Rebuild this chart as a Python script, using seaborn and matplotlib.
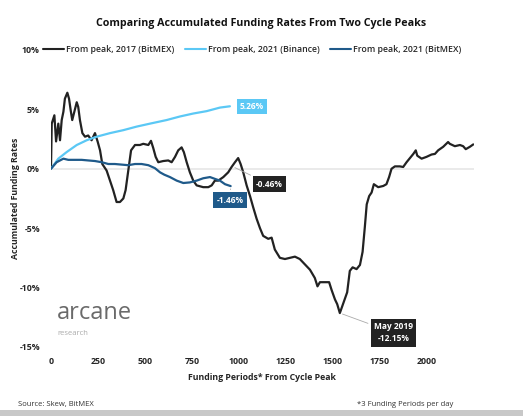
import numpy as np
import pandas as pd
import matplotlib.pyplot as plt
import seaborn as sns

# 2017 peak, BitMEX (funding period, accumulated %)
p2017_x = [0, 4, 18, 27, 39, 48, 57, 66, 74, 87, 96, 105, 113, 124, 137, 145, 154, 167, 181, 198,
           216, 234, 248, 261, 273, 296, 314, 331, 349, 367, 385, 397, 411, 426, 447, 473, 491, 518,
           532, 544, 557, 571, 597, 624, 642, 660, 677, 695, 707, 722, 739, 757, 775, 810, 837, 855,
           872, 890, 917, 943, 961, 979, 996, 1009, 1023, 1041, 1059, 1076, 1094, 1112, 1129, 1156,
           1174, 1191, 1218, 1245, 1271, 1298, 1324, 1351, 1378, 1404, 1418, 1431, 1457, 1480, 1493,
           1511, 1523, 1537, 1556, 1576, 1590, 1605, 1626, 1644, 1658, 1670, 1680, 1693, 1706, 1718,
           1741, 1768, 1785, 1799, 1812, 1830, 1856, 1874, 1892, 1910, 1928, 1941, 1949, 1972, 1998,
           2025, 2043, 2060, 2087, 2113, 2122, 2149, 2176, 2193, 2207, 2229, 2247]
p2017_y = [0.0, 3.8, 4.5, 2.3, 3.8, 2.4, 4.1, 4.8, 5.9, 6.4, 5.9, 4.9, 4.1, 4.8, 5.6, 5.2, 4.1, 3.0,
           2.7, 2.8, 2.4, 3.0, 2.3, 1.55, 0.4, -0.15, -1.0, -1.8, -2.8, -2.8, -2.5, -1.8, -0.15, 1.55,
           2.0, 2.0, 2.1, 2.0, 2.35, 1.75, 1.0, 0.55, 0.65, 0.7, 0.55, 1.0, 1.55, 1.8, 1.4, 0.55, -0.3,
           -1.0, -1.4, -1.55, -1.55, -1.4, -1.0, -1.0, -0.7, -0.3, 0.15, 0.55, 0.9, 0.4, -0.3, -1.4,
           -2.3, -3.25, -4.2, -5.0, -5.65, -5.9, -5.8, -6.8, -7.5, -7.6, -7.5, -7.4, -7.6, -8.05, -8.5,
           -9.2, -9.9, -9.55, -9.55, -9.55, -10.2, -11.0, -11.4, -12.15, -11.3, -10.4, -8.6, -8.3,
           -8.45, -8.1, -7.0, -4.9, -3.0, -2.3, -2.0, -1.3, -1.55, -1.45, -1.3, -0.7, 0.0, 0.2, 0.2,
           0.15, 0.55, 0.9, 1.25, 1.55, 1.1, 0.85, 1.0, 1.2, 1.25, 1.55, 1.85, 2.25, 2.1, 1.9, 2.0,
           1.9, 1.65, 1.85, 2.05]

# 2021 peak, Binance
bin_x = [0, 39, 83, 137, 190, 243, 314, 385, 456, 527, 615, 686, 757, 828, 899, 952]
bin_y = [0.0, 0.85, 1.4, 2.0, 2.4, 2.7, 3.0, 3.25, 3.55, 3.8, 4.1, 4.4, 4.65, 4.85, 5.15, 5.26]

# 2021 peak, BitMEX
bmx_x = [0, 30, 66, 92, 128, 163, 198, 234, 270, 305, 340, 376, 411, 447, 482, 518, 553, 580, 603,
         633, 669, 704, 739, 775, 810, 846, 872, 899, 926, 956]
bmx_y = [0.0, 0.55, 0.85, 0.75, 0.75, 0.75, 0.7, 0.65, 0.55, 0.4, 0.4, 0.35, 0.3, 0.4, 0.4, 0.3,
         0.05, -0.3, -0.5, -0.7, -1.0, -1.2, -1.15, -1.0, -0.8, -0.7, -0.85, -1.0, -1.3, -1.46]

labels = ["From peak, 2017 (BitMEX)", "From peak, 2021 (Binance)", "From peak, 2021 (BitMEX)"]
colors = ["#222222", "#5bc8f5", "#1f5a8a"]
yticks = [10, 5, 0, -5, -10, -15]
xticks = [0, 250, 500, 750, 1000, 1250, 1500, 1750, 2000]

df = pd.concat([
    pd.DataFrame({"period": p2017_x, "rate": p2017_y, "series": labels[0]}),
    pd.DataFrame({"period": bin_x, "rate": bin_y, "series": labels[1]}),
    pd.DataFrame({"period": bmx_x, "rate": bmx_y, "series": labels[2]}),
])

sns.set_style("white")
plt.rcParams['font.family'] = ['Open Sans', 'DejaVu Sans']

fig = plt.figure(figsize=(5.23, 4.2), dpi=100)
ax = fig.add_axes([0.0975, 0.174, 0.8085, 0.707])

ax.axhline(0, color="#e6e6e6", lw=1.2, zorder=0)
sns.lineplot(data=df, x="period", y="rate", hue="series", palette=colors,
             hue_order=labels, linewidth=1.6, ax=ax, legend=False, sort=False)

ax.set_xlim(0, 2250)
ax.set_ylim(-15, 10)
ax.set_yticks(yticks)
ax.set_yticklabels([f"{t}%" for t in yticks], fontsize=6.3, fontweight="bold")
ax.set_xticks(xticks)
ax.set_xticklabels([str(t) for t in xticks], fontsize=6.3, fontweight="bold")
ax.tick_params(axis="y", length=0, pad=8)
ax.tick_params(axis="x", length=0, pad=7)
sns.despine(ax=ax, left=True, bottom=True)
ax.set_xlabel("Funding Periods* From Cycle Peak", fontsize=6.3, fontweight="bold", labelpad=5)
ax.set_ylabel("Accumulated Funding Rates", fontsize=6.3, fontweight="bold")
ax.yaxis.set_label_coords(-0.073, 0.5)

# value boxes
ax.annotate("5.26%", xy=(bin_x[-1], bin_y[-1]), xytext=(1005, 5.26), fontsize=6,
            fontweight="bold", color="white", va="center", ha="left",
            bbox=dict(boxstyle="square,pad=0.35", fc=colors[1], ec="none"))
ax.annotate("-1.46%", xy=(bmx_x[-1], bmx_y[-1]), xytext=(880, -2.65), fontsize=6,
            fontweight="bold", color="white", va="center", ha="left",
            bbox=dict(boxstyle="square,pad=0.4", fc=colors[2], ec="none"),
            arrowprops=dict(arrowstyle="-", color="#aaaaaa", lw=0.6))
ax.annotate("-0.46%", xy=(965, 0.2), xytext=(1090, -1.3), fontsize=6,
            fontweight="bold", color="white", va="center", ha="left",
            bbox=dict(boxstyle="square,pad=0.4", fc=colors[0], ec="none"),
            arrowprops=dict(arrowstyle="-", color="#aaaaaa", lw=0.6))
ax.annotate("May 2019\n-12.15%", xy=(1537, -12.15), xytext=(1822, -13.8), fontsize=6,
            fontweight="bold", color="white", va="center", ha="center", linespacing=1.5,
            bbox=dict(boxstyle="square,pad=0.4", fc=colors[0], ec="none"),
            arrowprops=dict(arrowstyle="-", color="#aaaaaa", lw=0.6))

# logo
fig.text(0.108, 0.255, "arcane", fontsize=17, color="#6a6a6a", va="center", ha="left")
fig.text(0.110, 0.207, "research", fontsize=5.5, color="#aaaaaa", va="center", ha="left")

# legend
handles = [plt.Line2D([], [], color=c, lw=1.5) for c in colors]
fig.legend(handles, labels, loc="center", bbox_to_anchor=(0.482, 0.881), ncol=3, frameon=False,
           handlelength=2.4, handletextpad=0.2, columnspacing=1.2,
           prop=dict(size=6.3, weight="semibold"))

fig.text(0.5, 0.943, "Comparing Accumulated Funding Rates From Two Cycle Peaks",
         fontsize=7.7, fontweight="bold", ha="center", va="center", color="#111111")
fig.text(0.034, 0.038, "Source: Skew, BitMEX", fontsize=5.5, color="#333333", va="center")
fig.text(0.683, 0.038, "*3 Funding Periods per day", fontsize=5.5, color="#333333", va="center")
fig.patches.append(plt.Rectangle((0, 0.0095), 1, 0.0145, transform=fig.transFigure,
                                 fc="#c8c8c8", ec="none"))

fig.savefig("out.png", dpi=100)
